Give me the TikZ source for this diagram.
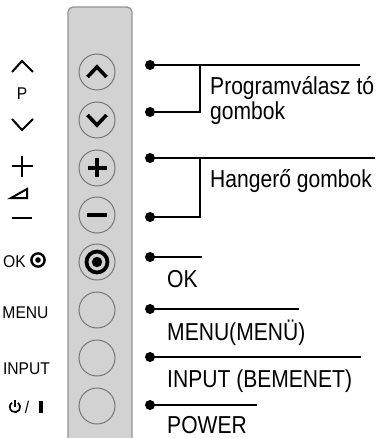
\documentclass[tikz,border=0pt]{standalone}
\usepackage{fontspec}
\setmainfont{Liberation Sans}[FakeStretch=0.86]
\newfontfamily\leftfont{Liberation Sans}[FakeStretch=0.92]
\definecolor{panelfill}{HTML}{D2D2D2}
\definecolor{panelborder}{HTML}{959595}
\definecolor{btngray}{HTML}{777777}
\begin{document}
\begin{tikzpicture}[x=1pt,y=-1pt,
  lbl/.style={anchor=base west, inner sep=0, font=\fontsize{24.5}{26}\selectfont},
  llbl/.style={anchor=base, inner sep=0, font=\leftfont\fontsize{17}{18}\selectfont},
  btn/.style={circle, draw=btngray, line width=1pt, minimum size=36pt, inner sep=0},
  dotn/.style={circle, fill=black, inner sep=0, minimum size=10pt},
  ln/.style={line width=1.4pt},
  icon/.style={line width=3.6pt, black},
  lsym/.style={line width=2pt, black}]
\useasboundingbox (0,0) rectangle (375,438);
% panel
\path[fill=panelfill, draw=panelborder, line width=1.3pt, rounded corners=5pt]
  (68,450) -- (68,7) -- (132,7) -- (132,450);
% buttons
\node[btn] (bup) at (97,72) {};
\node[btn] (bdown) at (97,120) {};
\node[btn] (bplus) at (97,168) {};
\node[btn] (bminus) at (97,215) {};
\node[btn] (bok) at (97,262) {};
\node[btn] (bmenu) at (97,310) {};
\node[btn] (binput) at (97,358) {};
\node[btn] (bpower) at (97,406) {};
% button icons
\draw[icon] (87.5,77) -- (97,67) -- (106.5,77);
\draw[icon] (87.5,115) -- (97,125) -- (106.5,115);
\draw[icon] (87.5,168) -- (106.5,168) (97,158.5) -- (97,177.5);
\draw[line width=4pt] (87,215) -- (107,215);
\draw[line width=3.8pt] (bok) circle[radius=10.5];
\fill (bok) circle[radius=5.2];
% left labels
\draw[lsym] (12,72) -- (22,61) -- (33,72);
\node[llbl] (lp) at (22,100) {P};
\draw[lsym] (12,119) -- (22,130) -- (33,119);
\draw[lsym] (12,166) -- (33,166) (22,156) -- (22,177);
\draw[lsym, line join=miter] (11,198) -- (27,198) -- (27,189) -- cycle;
\draw[lsym] (12,218) -- (32,218);
\node[llbl, anchor=base west] (lok) at (3,267) {OK};
\draw[line width=2.4pt] (38,260) circle[radius=6.6];
\fill (38,260) circle[radius=2.8];
\node[llbl] (lmenu) at (25.5,318) {MENU};
\node[llbl] (linput) at (26.5,374) {INPUT};
\draw[line width=1.7pt] ([shift={(-55:5.2)}]15,407) arc[start angle=-55, end angle=235, radius=5.2];
\draw[line width=1.7pt] (15,400) -- (15,407);
\node[llbl] (lslash) at (27,413) {/};
\draw[line width=3.6pt] (41,400.5) -- (41,413);
% dots
\node[dotn] (d1) at (150,65) {};
\node[dotn] (d2) at (150,112) {};
\node[dotn] (d3) at (150,158) {};
\node[dotn] (d4) at (150,217) {};
\node[dotn] (d5) at (150,257) {};
\node[dotn] (d6) at (150,309) {};
\node[dotn] (d7) at (150,357) {};
\node[dotn] (d8) at (150,405) {};
\coordinate (e1) at (360,65);
\coordinate (e3) at (375,158);
\coordinate (v1) at (200,65);
\coordinate (v2) at (200,112);
\coordinate (v3) at (200,158);
\coordinate (v4) at (200,217);
\coordinate (e5) at (202,257);
\coordinate (e6) at (299,309);
\coordinate (e7) at (361,357);
\coordinate (e8) at (257,405);
\draw[ln] (d1.center) -- (e1);
\draw[ln] (d2.center) -- (v2) -- (v1);
\draw[ln] (d3.center) -- (e3);
\draw[ln] (d4.center) -- (v4) -- (v3);
\draw[ln] (d5.center) -- (e5);
\draw[ln] (d6.center) -- (e6);
\draw[ln] (d7.center) -- (e7);
\draw[ln] (d8.center) -- (e8);
% right labels
\node[lbl] (tprog) at (210,95) {Programválasz tó};
\node[lbl] (tgomb) at (210,120) {gombok};
\node[lbl] (thang) at (210,188) {Hangerő gombok};
\node[lbl] (tok) at (167,287) {OK};
\node[lbl] (tmenu) at (167,340) {MENU(MENÜ)};
\node[lbl] (tinput) at (167,387) {INPUT (BEMENET)};
\node[lbl] (tpower) at (167,433) {POWER};
\end{tikzpicture}
\end{document}
